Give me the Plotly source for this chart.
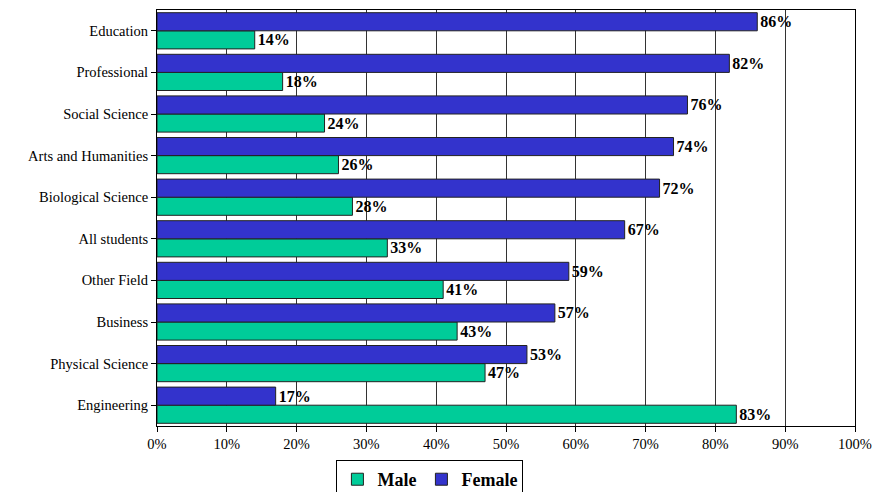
import plotly.graph_objects as go

campos = ['Education', 'Professional', 'Social Science', 'Arts and Humanities',
          'Biological Science', 'All students', 'Other Field', 'Business',
          'Physical Science', 'Engineering']
mujeres = [86, 82, 76, 74, 72, 67, 59, 57, 53, 17]
hombres = [14, 18, 24, 26, 28, 33, 41, 43, 47, 83]

fuente = 'Liberation Serif, Times New Roman, serif'

fig = go.Figure()
fig.add_trace(go.Bar(
    y=campos, x=hombres, name='Male', orientation='h',
    marker=dict(color='#00CC99', line=dict(color='#222222', width=1)),
    texttemplate='%{x}', textposition='outside', cliponaxis=False,
    textfont=dict(family=fuente, size=16, color='black', weight='bold')
))
fig.add_trace(go.Bar(
    y=campos, x=mujeres, name='Female', orientation='h',
    marker=dict(color='#3333CC', line=dict(color='#222222', width=1)),
    texttemplate='%{x}', textposition='outside', cliponaxis=False,
    textfont=dict(family=fuente, size=16, color='black', weight='bold')
))

fig.update_layout(
    barmode='group', bargap=0.13, bargroupgap=0,
    width=875, height=492,
    paper_bgcolor='white', plot_bgcolor='white',
    margin={"r": 20, "t": 10, "l": 157, "b": 66},
    font=dict(family=fuente, size=14.5, color='black'),
    legend=dict(orientation='h', x=0.391, xanchor='center',
                yref='container', y=0.065, yanchor='top',
                bordercolor='black', borderwidth=1, bgcolor='white',
                font=dict(family=fuente, size=18, color='black', weight='bold'),
                itemwidth=30, traceorder='normal'),
)
fig.update_xaxes(range=[0, 100], dtick=10, ticksuffix='%', showgrid=True,
                 gridcolor='#333333', gridwidth=1, showline=True, linecolor='black',
                 mirror=True, ticks='outside', ticklen=5, tickcolor='black', zeroline=False,
                 automargin=False)
fig.update_yaxes(categoryorder='array', categoryarray=campos[::-1], showline=True,
                 linecolor='black', mirror=True, ticks='outside', ticklen=5,
                 tickcolor='black', showgrid=False, automargin=False)

# quitar el margen por defecto del body para que la figura ocupe la ventana
fig.write_html("out.html", config={'displayModeBar': False},
               post_script="document.body.style.margin='0';document.body.style.overflow='hidden';")
